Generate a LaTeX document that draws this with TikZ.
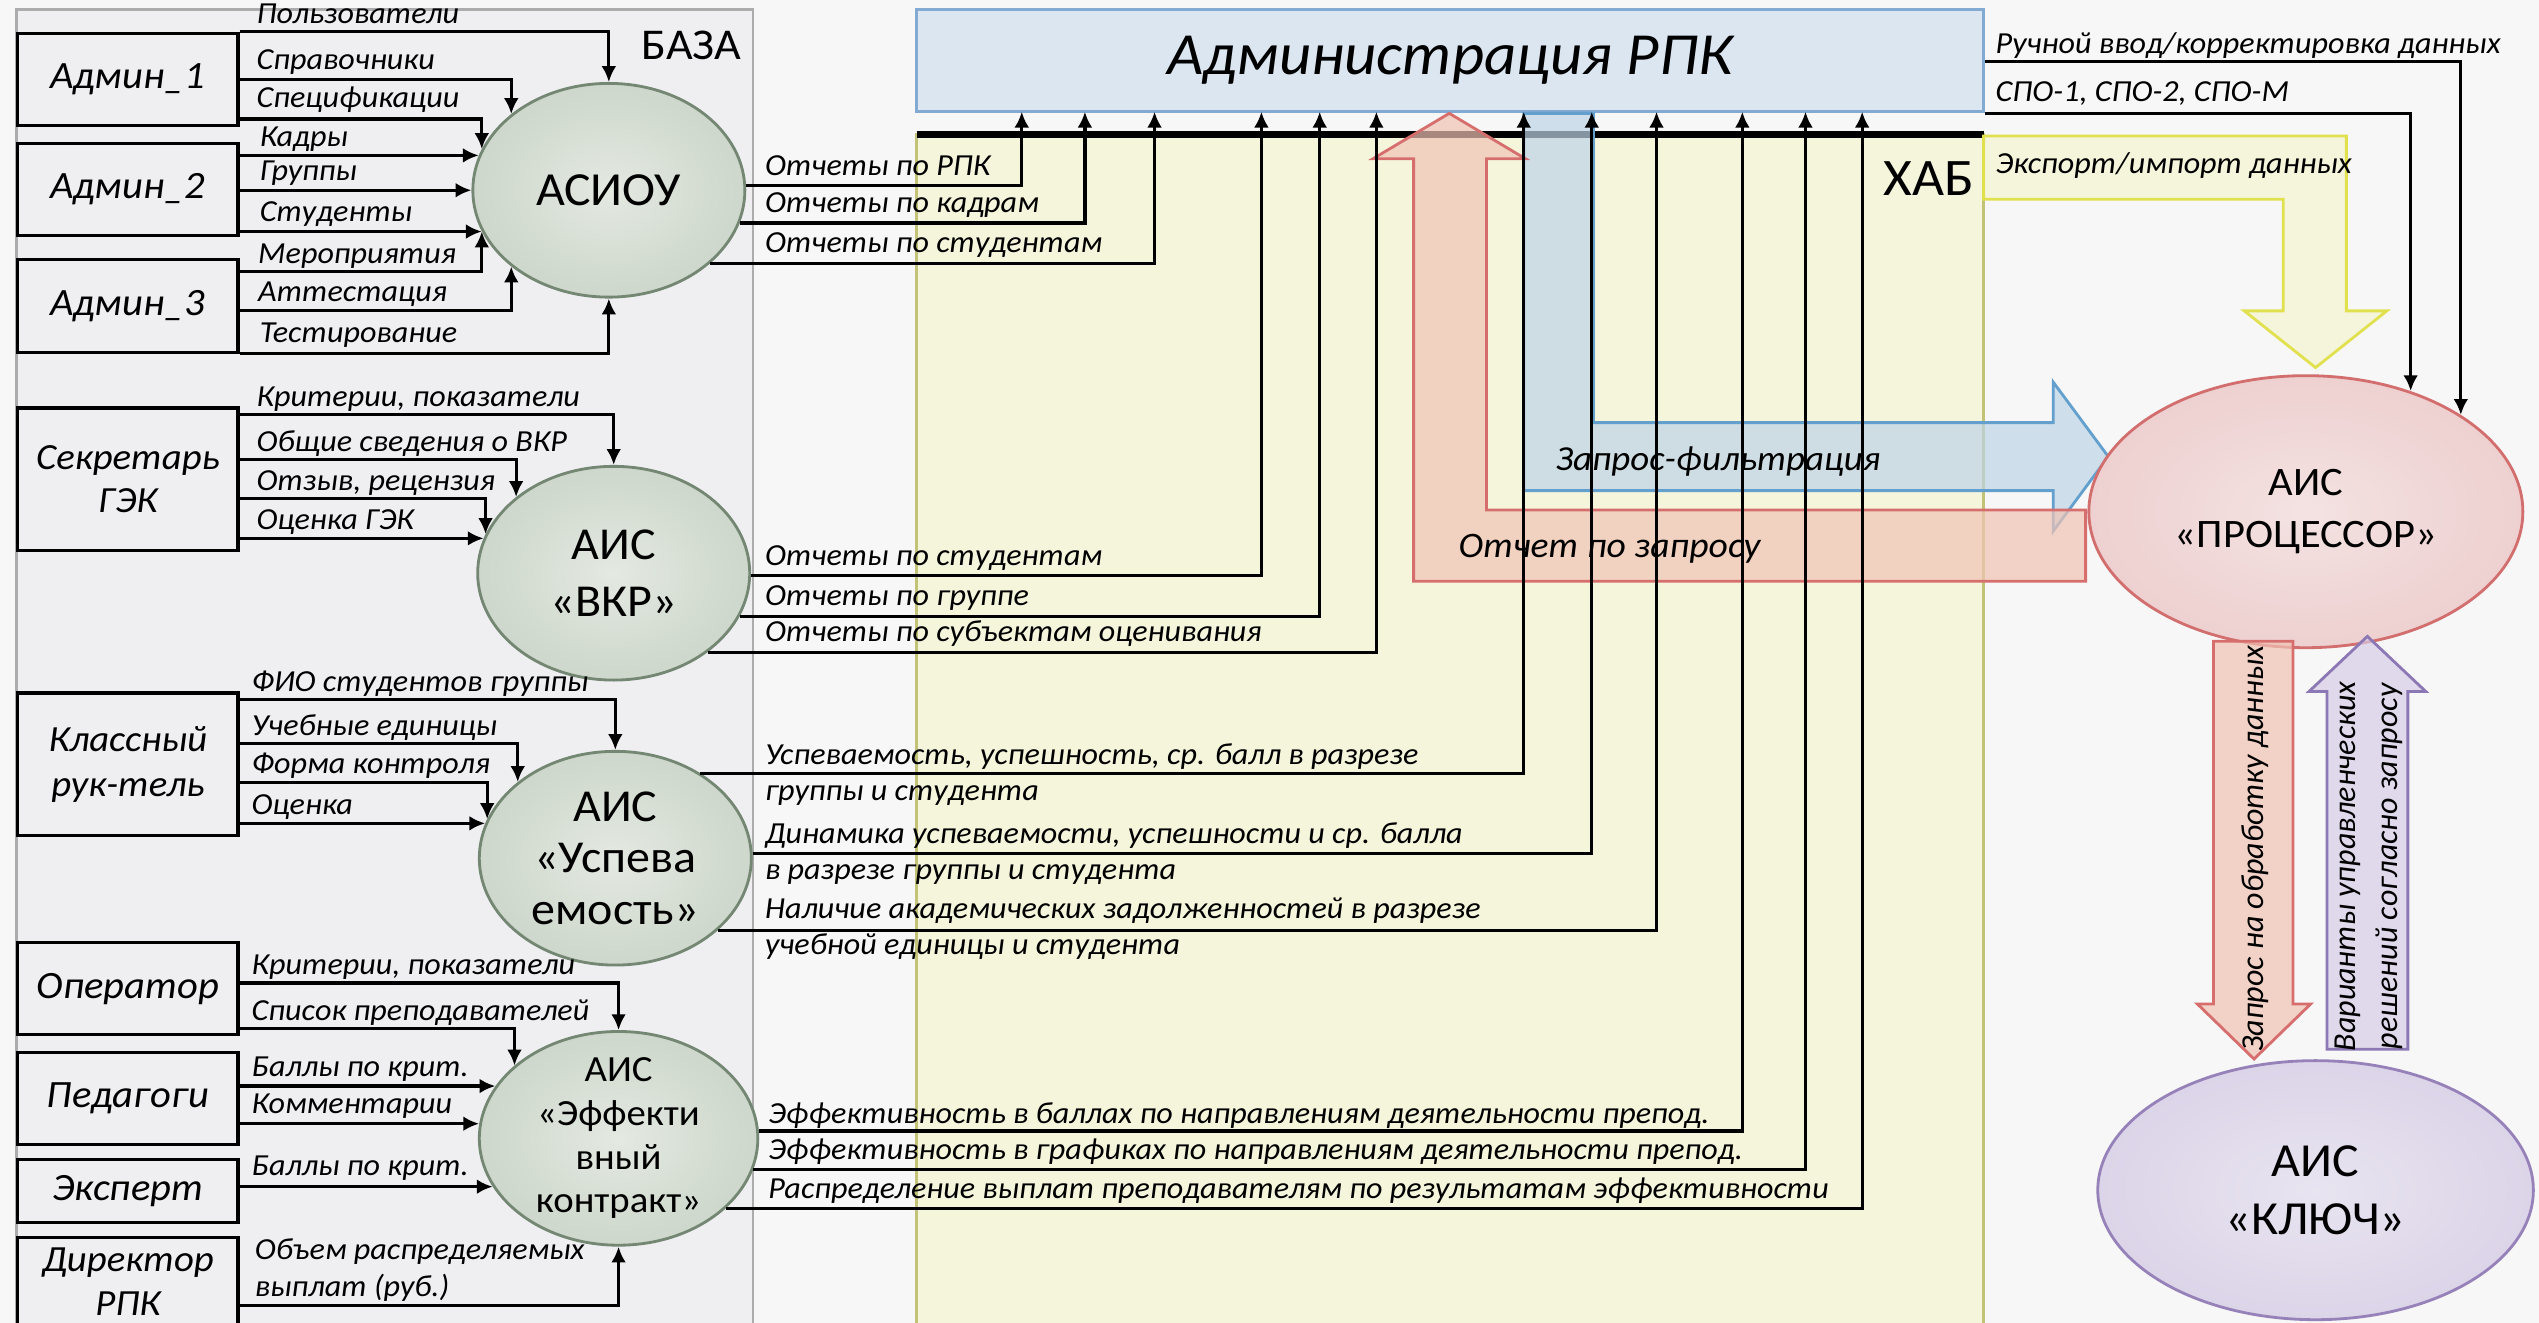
\documentclass[tikz,border=0pt]{standalone}
\usepackage{fontspec}
\setmainfont{Carlito}
\usetikzlibrary{arrows.meta,calc,shapes.geometric}

\definecolor{bgcol}{RGB}{247,247,247}
\definecolor{bazafill}{RGB}{239,239,242}
\definecolor{sysin}{RGB}{228,233,226}
\definecolor{sysout}{RGB}{205,215,203}
\definecolor{sysedge}{RGB}{115,135,115}
\definecolor{admfill}{RGB}{220,230,241}
\definecolor{admedge}{RGB}{130,170,210}
\definecolor{hubfill}{RGB}{245,245,220}
\definecolor{hubedge}{RGB}{195,195,120}
\definecolor{procin}{RGB}{244,226,226}
\definecolor{procout}{RGB}{238,208,208}
\definecolor{procedge}{RGB}{210,110,110}
\definecolor{keyin}{RGB}{232,228,240}
\definecolor{keyout}{RGB}{220,212,232}
\definecolor{keyedge}{RGB}{150,130,185}
\definecolor{redarrow}{RGB}{240,195,180}
\definecolor{rededge}{RGB}{215,110,110}
\definecolor{bluearrow}{RGB}{190,212,230}
\definecolor{blueedge}{RGB}{100,160,205}
\definecolor{yelarrow}{RGB}{245,245,208}
\definecolor{yeledge}{RGB}{225,225,80}
\definecolor{violarrow}{RGB}{215,205,232}
\definecolor{violedge}{RGB}{140,120,180}

\begin{document}
\begin{tikzpicture}[x=0.01619cm, y=-0.01619cm,
  stretchx/.style={xscale=1.05},
  actor/.style={draw, line width=0.9pt, fill=bazafill, stretchx, minimum width=2.097cm,
    minimum height=0.923cm, inner sep=0pt, align=center, font=\fontsize{11}{12.5}\selectfont\itshape},
  sys/.style={ellipse, draw=sysedge, line width=0.8pt, inner color=sysin, outer color=sysout,
    minimum width=2.72cm, minimum height=2.137cm, inner sep=0pt},
  systxt/.style={align=center, stretchx, inner sep=0pt},
  admbox/.style={draw=admedge, line width=0.8pt, fill=admfill, stretchx, minimum width=10.161cm,
    minimum height=1.02cm, inner sep=0pt, font=\fontsize{17}{20}\selectfont\itshape},
  lbl/.style={anchor=south west, stretchx, inner xsep=0pt, inner ysep=0.6pt, text depth=2pt,
    align=left, font=\fontsize{8.7}{10.6}\selectfont\itshape},
  lblb/.style={lbl, anchor=north west, text height=6pt, text depth=0pt, inner ysep=1.2pt},
  conn/.style={line width=0.9pt, -{Latex[length=4.5pt,width=4.2pt]}},
  bigarrow/.style={line width=0.8pt, fill opacity=0.7}
]

  \useasboundingbox (0,0) rectangle (1568,817);
  \fill[bgcol] (0,0) rectangle (1568,817);
  \clip (0,0) rectangle (1568,817);

  % BAZA panel
  \draw[gray!65, line width=0.8pt, fill=bazafill] (10,6) rectangle (465,830);
  \node[stretchx, font=\fontsize{12.5}{14}\selectfont] (baza) at (427,28) {БАЗА};

  % HUB panel
  \draw[hubedge, line width=0.8pt, fill=hubfill] (566,83) rectangle (1225,830);
  \draw[line width=1.8pt] (566,83) -- (1225,83);
  \node[stretchx, font=\fontsize{15}{17}\selectfont] (hub) at (1191,110) {ХАБ};

  % Administration
  \node[admbox] (adm) at (895.5,37.5) {Администрация РПК};

  % Big arrows in the hub
  \draw[bigarrow, draw=blueedge, fill=bluearrow] (941,70) -- (984,70) -- (984,261) -- (1268,261)
    -- (1268,236) -- (1302,282) -- (1268,328) -- (1268,303) -- (941,303) -- cycle;
  \draw[bigarrow, draw=rededge, fill=redarrow] (1288,315) -- (918,315) -- (918,98) -- (942,98)
    -- (895,70) -- (848,98) -- (873,98) -- (873,359) -- (1288,359) -- cycle;
  \draw[bigarrow, draw=yeledge, fill=yelarrow] (1225,84) -- (1449,84) -- (1449,192) -- (1474,192)
    -- (1430,227) -- (1386,192) -- (1410,192) -- (1410,123) -- (1225,123) -- cycle;

  % Actors
  \node[actor] (a1) at (79,49) {Админ\_1};
  \node[actor] (a2) at (79,117) {Админ\_2};
  \node[actor] (a3) at (79,189) {Админ\_3};
  \node[actor, minimum height=1.425cm, font=\fontsize{10.5}{12.4}\selectfont\itshape] (sec) at (79,296) {Секретарь\\ГЭК};
  \node[actor, minimum height=1.425cm, font=\fontsize{10.5}{12.9}\selectfont\itshape] (kr) at (79,472) {Классный\\рук-тель};
  \node[actor] (op) at (79,610.5) {Оператор};
  \node[actor] (ped) at (79,678.5) {Педагоги};
  \node[actor, minimum height=0.631cm] (exp) at (79,735.5) {Эксперт};
  \node[actor, minimum height=0.89cm, font=\fontsize{10.5}{12.4}\selectfont\itshape] (dir) at (79,791.5) {Директор\\РПК};

  % Systems
  \node[sys] (asiou) at (376,117.5) {};
  \node[sys] (vkr) at (379,354) {};
  \node[sys] (usp) at (380,530) {};
  \node[sys, minimum width=2.785cm] (eff) at (382,703) {};
  \node[sys, draw=procedge, inner color=procin, outer color=procout, minimum width=4.339cm,
    minimum height=2.72cm] (proc) at (1424,316) {};
  \node[sys, draw=keyedge, inner color=keyin, outer color=keyout, minimum width=4.355cm,
    minimum height=2.59cm] (key) at (1430,735) {};

  \node[systxt, font=\fontsize{13.5}{16}\selectfont] (asiout) at (asiou) {АСИОУ};
  \node[systxt, font=\fontsize{13}{16}\selectfont] (vkrt) at (vkr) {АИС\\«ВКР»};
  \node[systxt, font=\fontsize{13}{14.7}\selectfont] (uspt) at (usp) {АИС\\«Успева\\емость»};
  \node[systxt, font=\fontsize{10.5}{12.4}\selectfont] (efft) at (eff) {АИС\\«Эффекти\\вный\\контракт»};
  \node[systxt, font=\fontsize{11.5}{14.7}\selectfont] (proct) at (proc) {АИС\\«ПРОЦЕССОР»};
  \node[systxt, font=\fontsize{13.5}{16.6}\selectfont] (keyt) at (key) {АИС\\«КЛЮЧ»};

  % Processor <-> Key
  \draw[bigarrow, draw=rededge, fill=redarrow] (1367,396) -- (1416,396) -- (1416,620) -- (1427,620)
    -- (1392,654) -- (1357,620) -- (1367,620) -- cycle;
  \draw[bigarrow, draw=violedge, fill=violarrow] (1437,648) -- (1487,648) -- (1487,427) -- (1498,427)
    -- (1462,393) -- (1426,427) -- (1437,427) -- cycle;
  \node[rotate=90, font=\fontsize{9.1}{11}\selectfont\itshape] (qd) at (1393,524) {Запрос на обработку данных};
  \node[rotate=90, align=center, font=\fontsize{9.1}{12}\selectfont\itshape] (vr) at (1463,535)
    {Варианты управленческих\\решений согласно запросу};

  % Inputs of АСИОУ
  \draw[conn] (a1.north east) -| (asiou.north);
  \draw[conn] (a1.east) -| (asiou.142);
  \draw[conn] ($(a1.south east)+(0,-5)$) -| (asiou.162);
  \draw[conn] (a2.east |- asiou.165) -- (asiou.165);
  \draw[conn] (a2.east |- asiou.180) -- (asiou.180);
  \draw[conn] (a2.east |- asiou.198) -- (asiou.198);
  \draw[conn] ($(a3.north east)+(0,8)$) -| (asiou.198);
  \draw[conn] ($(a3.north east)+(0,32)$) -| (asiou.218);
  \draw[conn] (a3.south east) -| (asiou.south);
  \node[lbl] (i1) at (158,20.5) {Пользователи};
  \node[lbl] (i2) at (158,49) {Справочники};
  \node[lbl] (i3) at (158,72.5) {Спецификации};
  \node[lbl] (i4) at (160,96.4) {Кадры};
  \node[lbl] (i5) at (160,117.5) {Группы};
  \node[lbl] (i6) at (160,142.7) {Студенты};
  \node[lbl] (i7) at (159,168.5) {Мероприятия};
  \node[lbl] (i8) at (159,192.5) {Аттестация};
  \node[lbl] (i9) at (160,217.5) {Тестирование};

  % Inputs of ВКР
  \draw[conn] ($(sec.north east)+(0,5)$) -| (vkr.north);
  \draw[conn] ($(sec.north east)+(0,33)$) -| (vkr.142);
  \draw[conn] ($(sec.north east)+(0,57)$) -| (vkr.163);
  \draw[conn] (sec.east |- vkr.165) -- (vkr.165);
  \node[lbl] (i10) at (158,257) {Критерии, показатели};
  \node[lbl] (i11) at (158,285) {Общие сведения о ВКР};
  \node[lbl] (i12) at (158,309) {Отзыв, рецензия};
  \node[lbl] (i13) at (158,333) {Оценка ГЭК};

  % Inputs of Успеваемость
  \draw[conn] ($(kr.north east)+(0,5)$) -| (usp.north);
  \draw[conn] ($(kr.north east)+(0,32)$) -| (usp.142);
  \draw[conn] ($(kr.north east)+(0,56)$) -| (usp.163);
  \draw[conn] (kr.east |- usp.165) -- (usp.165);
  \node[lbl] (i14) at (155,433) {ФИО студентов группы};
  \node[lbl] (i15) at (155,460) {Учебные единицы};
  \node[lbl] (i16) at (155,484) {Форма контроля};
  \node[lbl] (i17) at (155,509) {Оценка};

  % Inputs of Эффективный контракт
  \draw[conn] ($(op.north east)+(0,26)$) -| (eff.north);
  \draw[conn] ($(op.north east)+(0,54)$) -| (eff.145);
  \draw[conn] (ped.east |- eff.157) -- (eff.157);
  \draw[conn] (ped.east |- eff.174) -- (eff.174);
  \draw[conn] (exp.east |- eff.201) -- (eff.201);
  \draw[conn] ($(dir.north east)+(0,43)$) -| (eff.south);
  \node[lbl] (i18) at (155,608) {Критерии, показатели};
  \node[lbl] (i19) at (155,636) {Список преподавателей};
  \node[lbl] (i20) at (155,671) {Баллы по крит.};
  \node[lbl] (i21) at (155,694) {Комментарии};
  \node[lbl] (i22) at (155,732) {Баллы по крит.};
  \node[lbl] (i23) at (157,807) {Объем распределяемых\\выплат (руб.)};

  % Columns under the administration
  \coordinate (c1) at (631,69);
  \coordinate (c2) at (670,69);
  \coordinate (c3) at (713,69);
  \coordinate (c4) at (779,69);
  \coordinate (c5) at (815,69);
  \coordinate (c6) at (850,69);
  \coordinate (c7) at (941,69);
  \coordinate (c8) at (983,69);
  \coordinate (c9) at (1023,69);
  \coordinate (c10) at (1076,69);
  \coordinate (c11) at (1115,69);
  \coordinate (c12) at (1150,69);

  % Reports to the administration
  \draw[conn] (asiou.2) -| (c1);
  \draw[conn] (asiou.346) -| (c2);
  \draw[conn] (asiou.324) -| (c3);
  \draw[conn] (vkr.359) -| (c4);
  \draw[conn] (vkr.341) -| (c5);
  \draw[conn] (vkr.320) -| (c6);
  \draw[conn] (usp.45) -| (c7);
  \draw[conn] (usp.2) -| (c8);
  \draw[conn] (usp.325) -| (c9);
  \draw[conn] (eff.3) -| (c10);
  \draw[conn] (eff.347) -| (c11);
  \draw[conn] (eff.327) -| (c12);
  \node[lbl] (o1) at (472,114.6) {Отчеты по РПК};
  \node[lbl] (o2) at (472,137.5) {Отчеты по кадрам};
  \node[lbl] (o3) at (472,162.3) {Отчеты по студентам};
  \node[lbl] (o4) at (472,355) {Отчеты по студентам};
  \node[lbl] (o5) at (472,380.2) {Отчеты по группе};
  \node[lbl] (o6) at (472,402) {Отчеты по субъектам оценивания};
  \node[lbl] (o7) at (472,478.3) {Успеваемость, успешность, ср. балл в разрезе};
  \node[lblb] (o7b) at (472,478.3) {группы и студента};
  \node[lbl] (o8) at (472,527) {Динамика успеваемости, успешности и ср. балла};
  \node[lblb] (o8b) at (472,527) {в разрезе группы и студента};
  \node[lbl] (o9) at (472,573.6) {Наличие академических задолженностей в разрезе};
  \node[lblb] (o9b) at (472,573.6) {учебной единицы и студента};
  \node[lbl] (o10) at (474,699.6) {Эффективность в баллах по направлениям деятельности препод.};
  \node[lbl] (o11) at (474,722) {Эффективность в графиках по направлениям деятельности препод.};
  \node[lbl] (o12) at (474,746) {Распределение выплат преподавателям по результатам эффективности};

  % Administration -> Processor
  \draw[conn] ($(adm.north east)+(0,33)$) -| (proc.32);
  \draw[conn] (adm.south east) -| (proc.49);
  \node[lbl] (r1) at (1232,39) {Ручной ввод/корректировка данных};
  \node[lbl] (r2) at (1232,69) {СПО-1, СПО-2, СПО-М};
  \node[lbl, anchor=west] (r3) at (1232,103) {Экспорт/импорт данных};

  % Texts on the big arrows
  \node[stretchx, font=\fontsize{10}{12}\selectfont\itshape] (qf) at (1061,285) {Запрос-фильтрация};
  \node[stretchx, font=\fontsize{10.2}{12}\selectfont\itshape] (qr) at (994,339) {Отчет по запросу};

\end{tikzpicture}
\end{document}
